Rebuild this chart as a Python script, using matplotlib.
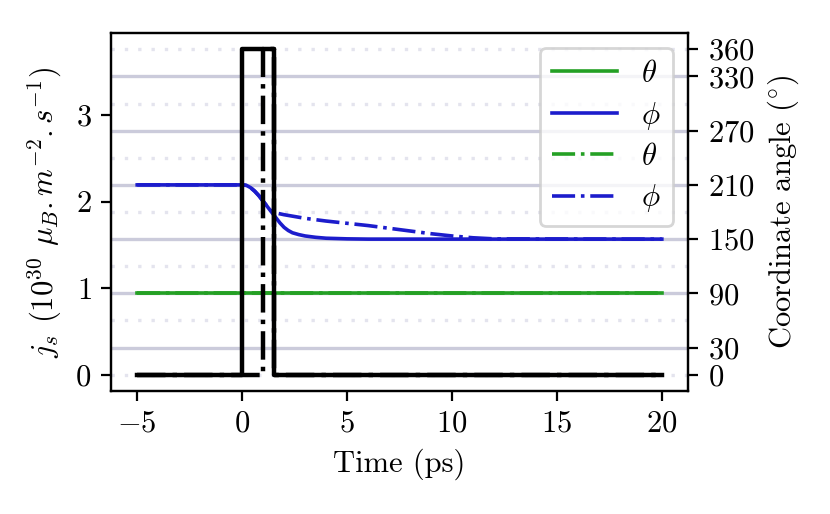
import matplotlib
matplotlib.use("Agg")
import matplotlib.pyplot as plt

plt.rcParams['font.family'] = 'serif'
plt.rcParams['font.serif'] = ['cmr10']
plt.rcParams['mathtext.fontset'] = 'cm'
plt.rcParams['axes.formatter.use_mathtext'] = True
plt.rcParams['font.size'] = 11

# spin current pulses (left axis)
t_pulse = [-5, 0, 0, 1.5, 1.5, 20]
js_pulse = [0, 0, 3.76, 3.76, 0, 0]
t_short = [-5, 1.0, 1.0, 1.5, 1.5, 20]
js_short = [0, 0, 3.76, 3.76, 0, 0]

# coordinate angles (right axis)
t_theta = [-5, 20]
theta = [90, 90]
t_phi = [-5, 0, 0.2, 0.4, 0.6, 0.8, 1.0, 1.2, 1.4, 1.6, 1.8, 2.0, 2.2, 2.4, 2.7,
         3.0, 3.5, 4.0, 5.0, 6.0, 20]
phi = [210, 210, 209.5, 207, 203, 198, 192, 186, 180, 174, 168, 163, 159.5, 157, 155,
       153.5, 152, 151, 150.3, 150, 150]
t_phi2 = [-5, 0, 0.2, 0.4, 0.6, 0.8, 1.0, 1.2, 1.4, 1.6, 2, 3, 4, 5, 6, 7, 8, 9, 10, 11, 12, 20]
phi2 = [210, 210, 209.5, 207, 203, 198, 192, 186, 181, 179, 177, 173, 170, 167.5, 165, 162,
        159, 156, 153.5, 151.5, 150.3, 150]

angle_ticks = [0, 30, 90, 150, 210, 270, 330, 360]
grid_solid = [30, 90, 150, 210, 270, 330]
grid_dotted = [0, 60, 120, 180, 240, 300, 360]

fig = plt.figure(figsize=(4.15, 2.57), dpi=200)
ax1 = fig.add_axes([0.1337, 0.2393, 0.829 - 0.1337, 0.9358 - 0.2393])
ax2 = ax1.twinx()
ax1.set_zorder(ax2.get_zorder() + 1)
ax1.patch.set_visible(False)

ax2.hlines(grid_solid, -6.25, 21.25, color='#cbcbdb', lw=1.2, zorder=0)
ax2.hlines(grid_dotted, -6.25, 21.25, color='#e4e4ee', lw=1.2, ls=(0, (1, 3)), zorder=0)

ax2.plot(t_theta, theta, color='#24a024', lw=1.3, label=r'$\theta$')
ax2.plot(t_phi, phi, color='#1c1ccc', lw=1.3, label=r'$\phi$')
ax2.plot(t_theta, theta, color='#24a024', lw=1.3, ls='-.', label=r'$\theta$')
ax2.plot(t_phi2, phi2, color='#1c1ccc', lw=1.3, ls='-.', label=r'$\phi$')

ax1.plot(t_pulse, js_pulse, color='k', lw=1.6)
ax1.plot(t_short, js_short, color='k', lw=1.6, ls='-.')

ax1.set_xlim(-6.25, 21.25)
ax1.set_ylim(-0.188, 3.948)
ax2.set_ylim(-18, 378)
ax2.set_yticks(angle_ticks)
ax1.set_yticks([0, 1, 2, 3])
ax1.set_xticks([-5, 0, 5, 10, 15, 20])

ax1.set_xlabel('Time (ps)')
ax1.set_ylabel(r'$j_s$ ($10^{30}$ $\mu_B.m^{-2}.s^{-1}$)')
ax2.set_ylabel(r'Coordinate angle (${}^{\circ}$)')

ax2.legend(loc='upper right', fontsize=11, handlelength=2.1, labelspacing=0.38,
           handletextpad=0.8, borderpad=0.4)

fig.savefig('out.png', dpi=200)
